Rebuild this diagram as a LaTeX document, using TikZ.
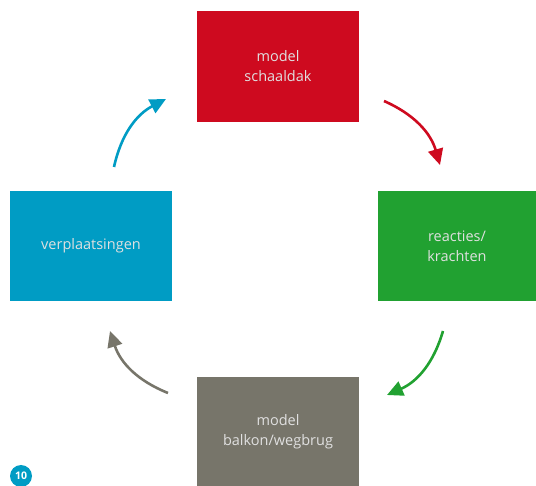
\documentclass[tikz,border=0pt]{standalone}
\usepackage{fontspec}
\setmainfont{Open Sans}
\usetikzlibrary{arrows.meta}
\definecolor{cred}{HTML}{CE0A1F}
\definecolor{cgreen}{HTML}{21A131}
\definecolor{cblue}{HTML}{009CC4}
\definecolor{cgray}{HTML}{77756A}
\tikzset{
  box/.style={rectangle, inner sep=0pt, align=center, text=white!88!black,
    font=\fontsize{14.5}{20}\selectfont},
  cyc/.style={line width=2.6pt, -{Triangle[length=16pt,width=15pt]}},
}
\begin{document}
\begin{tikzpicture}[x=1pt,y=-1pt]
\useasboundingbox (0,0) rectangle (536,486);
\node[box, fill=cred, minimum width=162pt, minimum height=111pt] (top) at (278,66.5) {model\\schaaldak};
\node[box, fill=cgreen, minimum width=158pt, minimum height=110pt] (right) at (457,246) {reacties/\\krachten};
\node[box, fill=cgray, minimum width=162pt, minimum height=110pt] (bottom) at (278,432) {model\\balkon/wegbrug};
\node[box, fill=cblue, minimum width=162pt, minimum height=110pt] (left) at (91,246) {verplaatsingen};
\node[circle, fill=cblue, minimum size=22pt, inner sep=0pt, text=white, font=\fontsize{10.5}{10.5}\selectfont\bfseries] (num) at (21,476) {10};
\coordinate (r1) at (384,101);
\coordinate (r2) at (440,165);
\coordinate (g1) at (443,331);
\coordinate (g2) at (387,395);
\coordinate (k1) at (168,393);
\coordinate (k2) at (110,331);
\coordinate (b1) at (114,167);
\coordinate (b2) at (166,99);
\draw[cyc, cred] (r1) to[bend left=25] (r2);
\draw[cyc, cgreen] (g1) to[bend left=25] (g2);
\draw[cyc, cgray] (k1) to[bend left=25] (k2);
\draw[cyc, cblue] (b1) to[bend left=25] (b2);
\end{tikzpicture}
\end{document}
